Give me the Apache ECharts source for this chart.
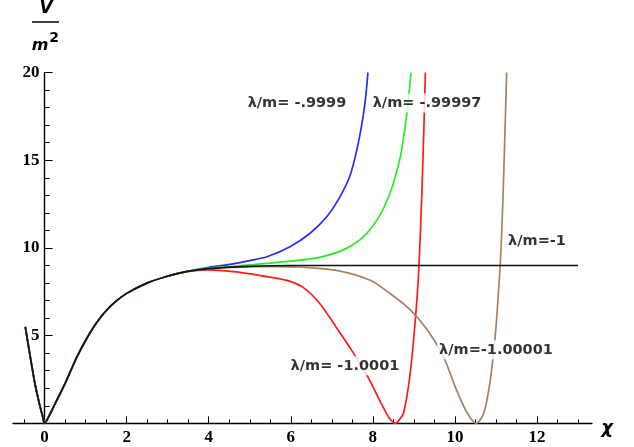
<!DOCTYPE html>
<html><head><meta charset="utf-8">
<script src="https://cdn.jsdelivr.net/npm/echarts@6/dist/echarts.min.js"></script>
<style>html,body{margin:0;padding:0;background:#fff}#c{width:634px;height:447px}</style>
</head><body><div id="c"></div>
<script>
// ---- tick values / labels ----
const xMajorTicks = [0, 2, 4, 6, 8, 10, 12];
const xMinorTicks = [-0.5, 0.5, 1, 1.5, 2.5, 3, 3.5, 4.5, 5, 5.5, 6.5, 7, 7.5, 8.5, 9, 9.5, 10.5, 11, 11.5, 12.5, 13];
const yMajorTicks = [5, 10, 15, 20];
const yMinorTicks = [1, 2, 3, 4, 6, 7, 8, 9, 11, 12, 13, 14, 16, 17, 18, 19];

// ---- common part of all curves ----
const sharedX = [-0.47, -0.35, -0.23, -0.11, -0.05, 0, 0.1, 0.22, 0.5, 0.78, 1.03, 1.27, 1.51, 1.75, 2.0, 2.48, 2.97, 3.45];
const sharedV = [5.5, 3.8, 2.2, 0.95, 0.42, 0, 0.38, 0.95, 2.28, 3.75, 4.85, 5.75, 6.45, 6.98, 7.41, 7.98, 8.37, 8.65];

// ---- individual tails ----
const blackX = [4.0, 5.0, 6.0, 8.0, 10.0, 13.0];
const blackV = [8.82, 8.95, 9.0, 9.0, 9.0, 9.0];

const blueX = [4.0, 4.6, 5.0, 5.42, 5.98, 6.47, 6.88, 7.2, 7.44, 7.6, 7.72, 7.81, 7.88];
const blueV = [8.9, 9.09, 9.28, 9.5, 10.07, 10.84, 11.79, 12.93, 14.1, 15.5, 16.9, 18.3, 20];

const greenX = [4.0, 4.6, 5.42, 6.0, 6.63, 7.28, 7.77, 8.18, 8.46, 8.67, 8.76, 8.84, 8.93];
const greenV = [8.85, 8.95, 9.12, 9.25, 9.43, 9.89, 10.64, 11.9, 13.4, 15.2, 16.5, 17.9, 20];

const redX = [4.0, 4.6, 5.2, 5.9, 6.3, 6.7, 7.1, 7.5, 7.9, 8.2, 8.4, 8.55, 8.66, 8.75, 8.9, 9.02, 9.1, 9.16, 9.22, 9.28];
const redV = [8.75, 8.65, 8.45, 8.15, 7.75, 6.85, 5.5, 4.1, 2.55, 1.15, 0.3, 0, 0.25, 0.6, 2.66, 5.5, 8.0, 11.0, 15.0, 20];

const brownX = [4.0, 5.0, 5.6, 6.3, 7.11, 7.92, 8.41, 8.9, 9.3, 9.71, 10.03, 10.28, 10.52, 10.7, 10.85, 10.98, 11.07, 11.13, 11.19, 11.26];
const brownV = [8.82, 8.93, 8.93, 8.9, 8.72, 8.17, 7.42, 6.5, 5.4, 3.85, 1.95, 0.66, 0, 0.57, 2.28, 4.94, 7.8, 10.3, 14.3, 20];

// ---- curve annotations ----
const curveLabels = ['λ/m= -.9999', 'λ/m= -.99997', 'λ/m=-1', 'λ/m= -1.0001', 'λ/m=-1.00001'];
const labelAnchorX = [6.15, 9.32, 12.0, 7.32, 11.0];
const labelAnchorY = [18.27, 18.27, 10.4, 3.28, 4.19];

function pairs(xs, vs) { return xs.map((x, i) => [x, vs[i]]); }
function curve(tx, tv) { return pairs(sharedX, sharedV).concat(pairs(tx, tv)); }

const chart = echarts.init(document.getElementById('c'), null, {renderer: 'canvas'});
const numFont = '"Liberation Serif", serif';
const xMin = -0.77, xMax = 13.34;
const gridLeft = 13, gridRight = 42;
const gridWidth = 634 - gridLeft - gridRight;
const yAxisOffset = -((0 - xMin) / (xMax - xMin)) * gridWidth;

function lineSeries(name, data, color, z) {
  return {
    name, type: 'line', data, smooth: 0.3, showSymbol: false, symbol: 'none',
    lineStyle: {color, width: 1.7}, z, silent: true, animation: false, clip: true
  };
}

chart.setOption({
  animation: false,
  backgroundColor: '#fff',
  grid: {left: gridLeft, right: gridRight, top: 72.6, bottom: 23.7, containLabel: false, outerBoundsMode: 'none'},
  xAxis: [
    {type: 'value', min: xMin, max: xMax, position: 'bottom',
     axisLine: {show: true, onZero: false, lineStyle: {color: '#000', width: 1.4}},
     axisTick: {show: true, inside: true, length: 7, customValues: xMajorTicks, lineStyle: {color: '#000', width: 1}},
     axisLabel: {show: true, customValues: xMajorTicks, margin: 6, color: '#000', fontFamily: numFont, fontWeight: 'bold', fontSize: 17},
     splitLine: {show: false}},
    {type: 'value', min: xMin, max: xMax, position: 'bottom',
     axisLine: {show: false, onZero: false},
     axisTick: {show: true, inside: true, length: 4, customValues: xMinorTicks, lineStyle: {color: '#000', width: 1}},
     axisLabel: {show: false},
     splitLine: {show: false}}
  ],
  yAxis: [
    {type: 'value', min: 0, max: 20, position: 'left', offset: yAxisOffset,
     axisLine: {show: true, onZero: false, lineStyle: {color: '#000', width: 1.4}},
     axisTick: {show: true, inside: true, length: 8, customValues: yMajorTicks, lineStyle: {color: '#000', width: 1}},
     axisLabel: {show: true, customValues: yMajorTicks, margin: 5, color: '#000', fontFamily: numFont, fontWeight: 'bold', fontSize: 17},
     splitLine: {show: false}},
    {type: 'value', min: 0, max: 20, position: 'left', offset: yAxisOffset,
     axisLine: {show: false, onZero: false},
     axisTick: {show: true, inside: true, length: 5, customValues: yMinorTicks, lineStyle: {color: '#000', width: 1}},
     axisLabel: {show: false},
     splitLine: {show: false}}
  ],
  series: [
    lineSeries('λ/m=-.9999', curve(blueX, blueV), '#2a2aff', 2),
    lineSeries('λ/m=-.99997', curve(greenX, greenV), '#22ee22', 3),
    lineSeries('λ/m=-1.0001', curve(redX, redV), '#ff1a1a', 4),
    lineSeries('λ/m=-1.00001', curve(brownX, brownV), '#a8825c', 5),
    lineSeries('λ/m=-1', curve(blackX, blackV), '#111', 6),
    {
      type: 'scatter', symbolSize: 0, silent: true, z: 20,
      data: curveLabels.map((t, i) => ({name: t, value: [labelAnchorX[i], labelAnchorY[i]]})),
      label: {show: true, position: 'inside', formatter: '{b}', color: '#000',
              textBorderWidth: 0, fontFamily: '"DejaVu Sans", sans-serif', fontWeight: 'bold', fontSize: 14.5,
              backgroundColor: '#fff', padding: [2, 2]}
    }
  ],
  graphic: [
    {type: 'text', z: 50, style: {text: 'V', x: 46, y: 9, textAlign: 'center', textVerticalAlign: 'middle',
      font: 'italic bold 17px "DejaVu Sans", sans-serif', fill: '#000'}},
    {type: 'line', z: 50, shape: {x1: 32, y1: 22, x2: 59, y2: 22}, style: {stroke: '#000', lineWidth: 1.5}},
    {type: 'text', z: 50, style: {text: 'm', x: 40, y: 46, textAlign: 'center', textVerticalAlign: 'middle',
      font: 'italic bold 16px "DejaVu Sans", sans-serif', fill: '#000'}},
    {type: 'text', z: 50, style: {text: '2', x: 54, y: 38, textAlign: 'center', textVerticalAlign: 'middle',
      font: 'bold 14px "DejaVu Sans", sans-serif', fill: '#000'}},
    {type: 'text', z: 50, style: {text: 'χ', x: 607, y: 428, textAlign: 'center', textVerticalAlign: 'middle',
      font: 'italic bold 18px "DejaVu Sans", sans-serif', fill: '#000'}}
  ]
});
</script>
</body></html>
